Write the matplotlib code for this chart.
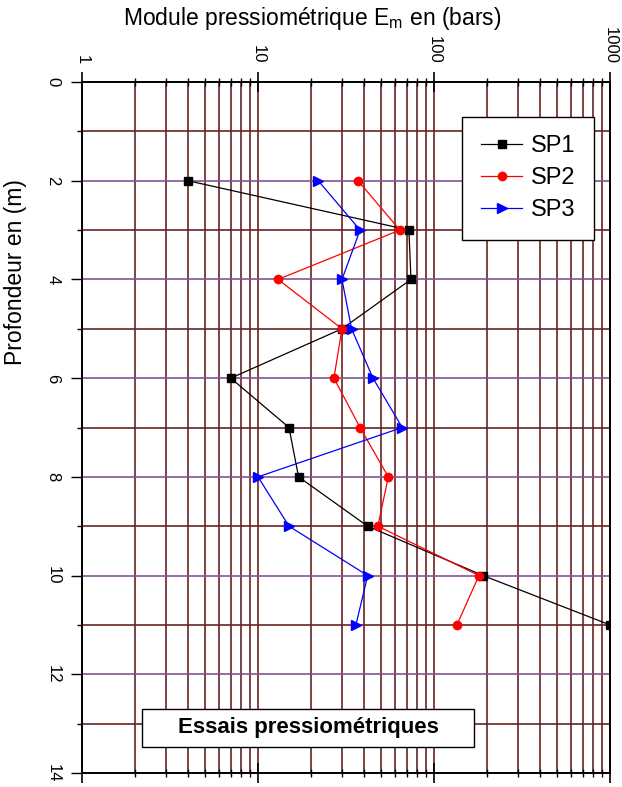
import matplotlib
matplotlib.use("Agg")
import matplotlib.pyplot as plt
from matplotlib.patches import Rectangle
from matplotlib.ticker import LogLocator, FixedLocator, NullFormatter

plt.rcParams['font.family'] = ['Liberation Sans', 'DejaVu Sans']
plt.rcParams['mathtext.default'] = 'regular'

# profondeurs (m) et modules pressiometriques (bars)
depth = [2, 3, 4, 5, 6, 7, 8, 9, 10, 11]
sp1 = [4, 72, 74, 30, 7, 15, 17, 42, 190, 1000]
sp2 = [37, 64, 13, 30, 27, 38, 55, 48, 180, 135]
sp3 = [22, 38, 30, 34, 45, 66, 10, 15, 42, 36]

x_ticks = [1, 10, 100, 1000]
x_labels = ["1", "10", "100", "1000"]
y_major = [0, 2, 4, 6, 8, 10, 12, 14]
y_minor = [1, 3, 5, 7, 9, 11, 13]

BROWN = "#6a2424"
PURPLE = "#845490"

fig = plt.figure(figsize=(6.22, 7.87), dpi=100)
W, H = 622, 787
ax = fig.add_axes([82 / W, 1 - 773 / H, (610 - 82) / W, (773 - 82) / H])

ax.plot(sp1, depth, color="black", lw=0.9, marker="s", ms=6, label="SP1", zorder=4)
ax.plot(sp2, depth, color="red", lw=0.9, marker="o", ms=6, label="SP2", zorder=4)
ax.plot(sp3, depth, color="blue", lw=0.9, marker=">", ms=7, label="SP3", zorder=4)

ax.set_xscale("log")
ax.set_xlim(1, 1000)
ax.set_ylim(14, 0)

ax.xaxis.set_major_locator(FixedLocator(x_ticks))
ax.set_xticklabels(x_labels)
ax.xaxis.set_minor_locator(LogLocator(base=10, subs=range(2, 10)))
ax.xaxis.set_minor_formatter(NullFormatter())
ax.yaxis.set_major_locator(FixedLocator(y_major))
ax.yaxis.set_minor_locator(FixedLocator(y_minor))

ax.xaxis.tick_top()
ax.tick_params(axis="x", which="both", top=True, bottom=True, direction="inout",
               labeltop=True, labelbottom=False)
ax.tick_params(axis="x", which="major", length=14, width=1.2, labelsize=12,
               labelrotation=-90, pad=6)
ax.tick_params(axis="x", which="minor", length=6, width=1.0)
ax.tick_params(axis="y", which="major", direction="out", length=8, width=1.0,
               labelsize=12, labelrotation=-90, pad=13)
ax.tick_params(axis="y", which="minor", direction="out", length=3.5, width=1.0)
for lab in ax.get_yticklabels():
    lab.set_horizontalalignment("center")
    lab.set_verticalalignment("center")

ax.grid(axis="x", which="both", color=BROWN, lw=1.2)
ax.grid(axis="y", which="major", color=PURPLE, lw=1.2)
ax.grid(axis="y", which="minor", color=BROWN, lw=1.2)
ax.set_axisbelow(True)
for sp in ax.spines.values():
    sp.set_linewidth(1.4)
    sp.set_zorder(5)

leg = ax.legend(loc="upper left", bbox_to_anchor=(0.72, 0.95), borderaxespad=0,
                fontsize=17, frameon=True, fancybox=False, edgecolor="black",
                framealpha=1, handlelength=1.75, handletextpad=0.35,
                labelspacing=0.42, borderpad=0.8)
leg.get_frame().set_linewidth(1.0)
leg.set_zorder(6)

# cartouche du titre
ax.add_patch(Rectangle(((142 - 82) / 528, (773 - 747) / 691), (474 - 142) / 528,
                       (747 - 709) / 691, transform=ax.transAxes, facecolor="white",
                       edgecolor="black", lw=1.0, zorder=6))
ax.text((308 - 82) / 528, (773 - 728) / 691, "Essais pressiométriques",
        transform=ax.transAxes, ha="center", va="center", fontsize=16,
        fontweight="bold", zorder=7)

fig.text(312 / W, 1 - 18 / H, "Module pressiométrique E$_m$ en (bars)",
         ha="center", va="center", fontsize=16.5)
fig.text(16 / W, 1 - 272 / H, "Profondeur en (m)", ha="center", va="center",
         rotation=90, fontsize=16.5)

fig.savefig("out.png", dpi=100)
